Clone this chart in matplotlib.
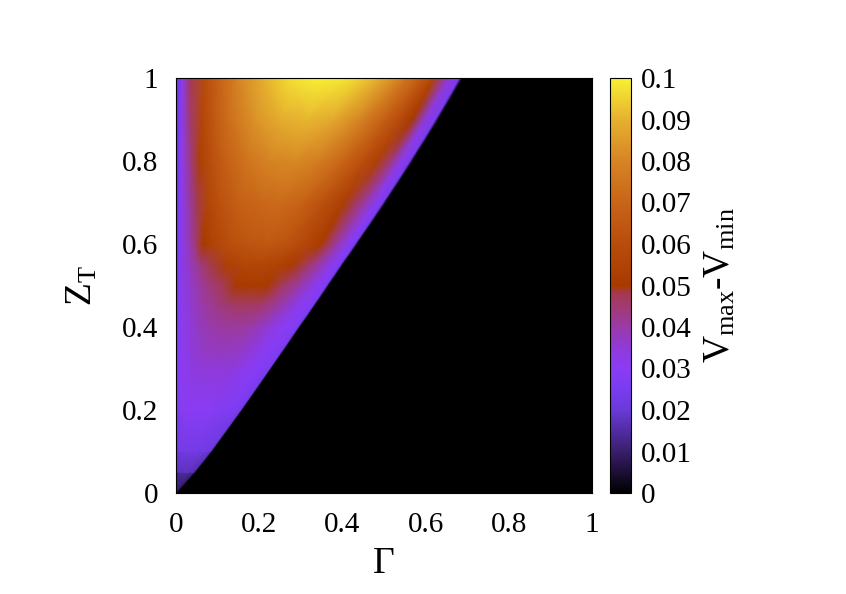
import numpy as np
import matplotlib
matplotlib.use('Agg')
import matplotlib.pyplot as plt
from matplotlib.colors import LinearSegmentedColormap

plt.rcParams['font.family'] = ['Liberation Serif', 'DejaVu Serif']
plt.rcParams['mathtext.fontset'] = 'custom'
plt.rcParams['mathtext.rm'] = 'Liberation Serif'
plt.rcParams['mathtext.it'] = 'Liberation Serif:italic'

# Z_T levels (rows) and the Gamma where the coloured region ends on each row
z_levels = [0.0, 0.05, 0.1, 0.2, 0.3, 0.4, 0.45, 0.5, 0.55, 0.6, 0.7, 0.8, 0.9, 1.0]
gamma_edge = [0.0, 0.045, 0.085, 0.158, 0.228, 0.297, 0.332, 0.366, 0.4, 0.435, 0.503, 0.568, 0.630, 0.688]

# position along each row, as fraction of the edge Gamma
frac = [0, 0.02, 0.05, 0.1, 0.15, 0.2, 0.3, 0.4, 0.5, 0.6, 0.7, 0.8, 0.85, 0.9, 0.95, 0.99, 1.0]

# Vmax - Vmin
vdiff = [
    [0.004, 0.006, 0.006, 0.006, 0.006, 0.006, 0.006, 0.006, 0.006, 0.006, 0.006, 0.006, 0.006, 0.006, 0.006, 0.005, 0.0],
    [0.011, 0.015, 0.016, 0.017, 0.017, 0.017, 0.017, 0.017, 0.017, 0.017, 0.017, 0.016, 0.016, 0.016, 0.015, 0.013, 0.0],
    [0.015, 0.021, 0.022, 0.023, 0.023, 0.023, 0.023, 0.023, 0.023, 0.023, 0.022, 0.022, 0.021, 0.021, 0.020, 0.018, 0.0],
    [0.018, 0.026, 0.028, 0.029, 0.030, 0.030, 0.030, 0.030, 0.030, 0.029, 0.028, 0.027, 0.027, 0.026, 0.025, 0.022, 0.0],
    [0.019, 0.028, 0.030, 0.032, 0.033, 0.034, 0.035, 0.035, 0.035, 0.034, 0.032, 0.030, 0.029, 0.028, 0.027, 0.024, 0.0],
    [0.020, 0.029, 0.031, 0.034, 0.036, 0.038, 0.040, 0.041, 0.041, 0.040, 0.037, 0.033, 0.031, 0.030, 0.028, 0.025, 0.0],
    [0.020, 0.029, 0.032, 0.035, 0.038, 0.040, 0.043, 0.045, 0.046, 0.045, 0.042, 0.037, 0.034, 0.031, 0.029, 0.026, 0.0],
    [0.020, 0.029, 0.033, 0.037, 0.040, 0.043, 0.047, 0.050, 0.051, 0.050, 0.046, 0.041, 0.037, 0.033, 0.029, 0.026, 0.0],
    [0.020, 0.029, 0.034, 0.039, 0.044, 0.048, 0.053, 0.056, 0.057, 0.055, 0.051, 0.045, 0.041, 0.036, 0.030, 0.026, 0.0],
    [0.020, 0.029, 0.035, 0.043, 0.050, 0.055, 0.061, 0.064, 0.065, 0.063, 0.058, 0.051, 0.046, 0.039, 0.031, 0.026, 0.0],
    [0.020, 0.029, 0.037, 0.048, 0.056, 0.061, 0.068, 0.071, 0.072, 0.069, 0.062, 0.053, 0.048, 0.041, 0.032, 0.026, 0.0],
    [0.020, 0.030, 0.040, 0.053, 0.061, 0.067, 0.075, 0.080, 0.081, 0.078, 0.071, 0.060, 0.054, 0.046, 0.033, 0.026, 0.0],
    [0.020, 0.030, 0.044, 0.057, 0.066, 0.073, 0.083, 0.089, 0.091, 0.088, 0.080, 0.067, 0.060, 0.050, 0.034, 0.026, 0.0],
    [0.020, 0.030, 0.047, 0.060, 0.069, 0.077, 0.089, 0.097, 0.100, 0.098, 0.090, 0.076, 0.067, 0.055, 0.036, 0.026, 0.0],
]

cbar_ticks = [0, 0.01, 0.02, 0.03, 0.04, 0.05, 0.06, 0.07, 0.08, 0.09, 0.1]
axis_ticks = [0, 0.2, 0.4, 0.6, 0.8, 1]

# colour palette like the gnuplot one
cmap = LinearSegmentedColormap.from_list('pal', [
    (0.00, '#000000'),
    (0.10, '#3a1f6e'),
    (0.20, '#6a3ad8'),
    (0.25, '#7a3cf0'),
    (0.30, '#8a3cf4'),
    (0.35, '#8f3ad8'),
    (0.40, '#9a3aa8'),
    (0.45, '#a23a70'),
    (0.48, '#a43a50'),
    (0.50, '#a83a00'),
    (0.60, '#b84c0c'),
    (0.70, '#c86418'),
    (0.80, '#d68424'),
    (0.90, '#e6b030'),
    (1.00, '#f8f034'),
])

X = np.outer(gamma_edge, frac)
Y = np.outer(z_levels, np.ones(len(frac)))
C = np.array(vdiff)

fig = plt.figure(figsize=(8.46, 5.94), dpi=100)
ax = fig.add_axes([176/846, 1-493/594, 416/846, 415/594])
cax = fig.add_axes([610/846, 1-493/594, 21/846, 415/594])

ax.set_facecolor('black')
mesh = ax.pcolormesh(X, Y, C, shading='gouraud', cmap=cmap, vmin=0, vmax=0.1)
ax.set_xlim(0, 1)
ax.set_ylim(0, 1)
ax.set_xticks(axis_ticks)
ax.set_yticks(axis_ticks)
ax.set_xticklabels(['0', '0.2', '0.4', '0.6', '0.8', '1'])
ax.set_yticklabels(['0', '0.2', '0.4', '0.6', '0.8', '1'])
ax.tick_params(length=0, labelsize=21)
ax.tick_params(axis='x', pad=14)
ax.tick_params(axis='y', pad=13)
ax.set_xlabel('Γ', fontsize=27, labelpad=6)
ax.set_ylabel(r'Z$_\mathregular{T}$', fontsize=27, labelpad=16)

cb = fig.colorbar(mesh, cax=cax, ticks=cbar_ticks)
cb.ax.set_yticklabels(['0', '0.01', '0.02', '0.03', '0.04', '0.05', '0.06', '0.07', '0.08', '0.09', '0.1'])
cb.ax.tick_params(length=0, labelsize=21, pad=7)
cb.outline.set_linewidth(0.8)
cb.set_label(r'V$_\mathregular{max}$-V$_\mathregular{min}$', fontsize=27, labelpad=8)

plt.savefig('out.png', dpi=100)
